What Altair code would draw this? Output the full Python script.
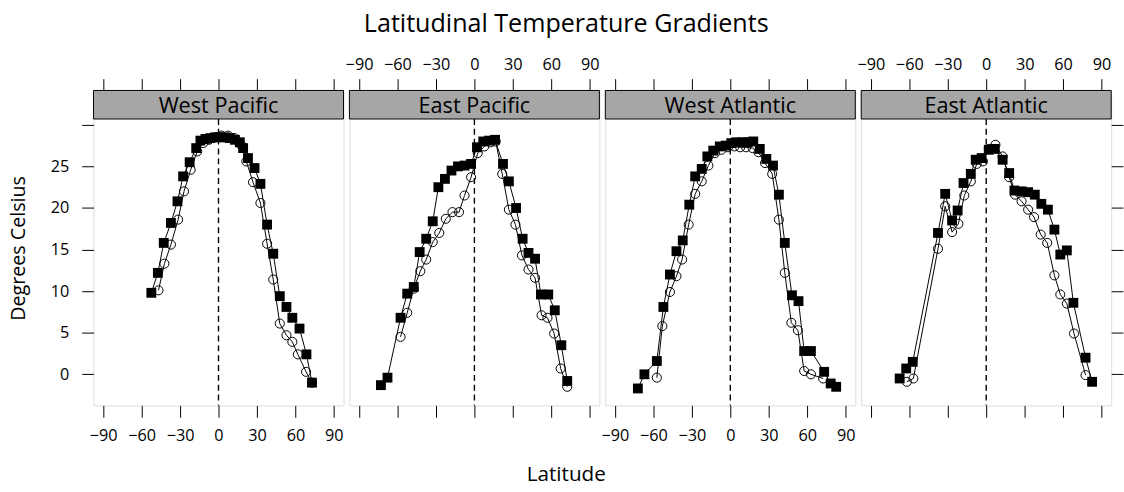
import altair as alt
import pandas as pd

FONT = "Open Sans"
panel_names = ["West Pacific", "East Pacific", "West Atlantic", "East Atlantic"]
lat_ticks = [-90, -60, -30, 0, 30, 60, 90]
temp_ticks = [0, 5, 10, 15, 20, 25, 30]

# West Pacific
wp_sq_lat = [-52.4, -47.3, -42.7, -37.1, -32.0, -27.6, -22.5, -17.4, -14.1, -10.2, -6.4, -2.6, 1.3, 5.1, 9.0, 12.8, 16.6, 19.2, 23.0, 28.1, 32.7, 37.9, 42.7, 47.8, 53.0, 57.6, 63.2, 68.6, 72.9]
wp_sq_t = [9.8, 12.2, 15.8, 18.2, 20.8, 23.8, 25.5, 27.2, 28.1, 28.3, 28.4, 28.5, 28.5, 28.5, 28.4, 28.2, 27.9, 27.2, 26.0, 24.8, 22.9, 18.0, 14.5, 9.4, 8.1, 6.8, 5.5, 2.4, -1.0]
wp_ci_lat = [-46.8, -42.2, -37.1, -31.5, -26.9, -21.7, -16.6, -12.0, -7.5, -2.5, 2.5, 7.5, 12.5, 17.5, 21.7, 26.9, 32.7, 37.9, 42.7, 47.8, 53.0, 57.6, 61.9, 68.3, 72.9]
wp_ci_t = [10.1, 13.3, 15.6, 18.6, 22.0, 24.6, 26.8, 27.8, 28.2, 28.5, 28.7, 28.7, 28.4, 27.6, 25.6, 23.1, 20.6, 15.7, 11.4, 6.1, 4.7, 3.9, 2.4, 0.3, -1.0]

# East Pacific
ep_sq_lat = [-72.9, -67.8, -57.6, -52.4, -47.3, -42.7, -37.6, -32.5, -28.1, -23.0, -17.9, -12.8, -7.7, -2.6, 2.0, 6.9, 11.5, 16.1, 22.3, 26.9, 32.5, 37.6, 42.2, 47.3, 51.9, 57.6, 62.7, 67.8, 72.4]
ep_sq_t = [-1.3, -0.4, 6.8, 9.7, 10.5, 14.7, 16.3, 18.4, 22.5, 23.5, 24.5, 25.0, 25.1, 25.3, 27.3, 28.0, 28.1, 28.2, 25.3, 23.2, 20.0, 16.3, 14.6, 13.9, 9.6, 9.6, 7.7, 3.5, -0.8]
ep_ci_lat = [-57.6, -52.4, -47.3, -42.2, -37.6, -32.5, -27.4, -22.3, -17.1, -12.0, -7.7, -2.6, 2.6, 7.7, 12.8, 16.6, 21.7, 26.9, 32.0, 37.1, 42.2, 47.3, 52.4, 57.0, 62.2, 67.3, 72.4]
ep_ci_t = [4.5, 7.4, 10.3, 12.4, 13.8, 15.9, 17.0, 18.7, 19.5, 19.5, 21.5, 23.7, 26.6, 27.4, 27.9, 28.0, 24.1, 19.8, 18.0, 14.3, 12.6, 11.6, 7.1, 6.8, 4.9, 0.7, -1.5]

# West Atlantic
wa_sq_lat = [-72.1, -67.0, -57.3, -52.2, -47.1, -42.0, -37.1, -32.0, -27.4, -22.3, -17.9, -13.3, -8.2, -3.6, 0.8, 4.6, 9.7, 13.6, 17.9, 23.0, 28.1, 33.3, 37.9, 42.5, 48.1, 53.2, 57.6, 62.9, 73.2, 78.3, 82.6]
wa_sq_t = [-1.7, 0.0, 1.6, 8.1, 12.0, 14.8, 16.1, 20.4, 23.8, 24.7, 26.2, 26.9, 27.4, 27.5, 27.8, 27.9, 27.9, 27.9, 28.0, 27.1, 25.9, 25.1, 21.6, 15.8, 9.5, 8.8, 2.8, 2.8, 0.3, -1.1, -1.5]
wa_ci_lat = [-57.3, -53.0, -47.1, -42.0, -37.6, -32.5, -27.4, -22.3, -17.1, -12.0, -6.9, -1.8, 3.3, 7.7, 12.3, 17.4, 22.0, 27.1, 32.7, 37.9, 42.5, 47.6, 52.7, 57.6, 62.9, 72.4]
wa_ci_t = [-0.4, 5.8, 9.9, 11.8, 13.8, 18.0, 21.7, 23.2, 25.1, 26.6, 27.0, 27.3, 27.4, 27.3, 27.3, 27.2, 26.7, 25.4, 24.1, 18.6, 12.2, 6.2, 5.3, 0.4, 0.0, -0.5]

# East Atlantic
ea_sq_lat = [-67.5, -62.4, -57.3, -37.6, -32.0, -26.6, -22.3, -17.7, -12.0, -8.2, -3.6, 2.0, 6.7, 12.8, 17.9, 22.0, 27.6, 32.7, 37.9, 43.0, 48.1, 53.2, 57.8, 62.9, 68.0, 77.5, 82.6]
ea_sq_t = [-0.5, 0.7, 1.5, 17.0, 21.7, 18.5, 19.7, 23.0, 24.1, 25.8, 26.0, 27.0, 27.1, 25.8, 24.2, 22.1, 22.0, 21.9, 21.6, 20.5, 19.8, 17.4, 14.4, 14.9, 8.6, 2.0, -0.9]
ea_ci_lat = [-61.9, -56.8, -37.6, -32.0, -26.6, -21.7, -17.1, -12.0, -7.4, -2.6, 2.0, 7.2, 12.8, 17.9, 22.5, 27.6, 32.7, 37.3, 42.5, 47.6, 53.2, 57.8, 62.9, 68.5, 77.5]
ea_ci_t = [-0.9, -0.5, 15.1, 20.2, 17.1, 18.1, 21.5, 23.2, 25.3, 25.6, 27.1, 27.6, 26.2, 23.7, 21.6, 20.8, 19.8, 18.9, 16.8, 15.8, 11.9, 9.6, 8.5, 4.9, -0.1]

panel_data = [
    (wp_sq_lat, wp_sq_t, wp_ci_lat, wp_ci_t),
    (ep_sq_lat, ep_sq_t, ep_ci_lat, ep_ci_t),
    (wa_sq_lat, wa_sq_t, wa_ci_lat, wa_ci_t),
    (ea_sq_lat, ea_sq_t, ea_ci_lat, ea_ci_t),
]

W = 254
H = 320
STRIP = 29
Y_MIN = -3.74
Y_MAX = 34.13
STRIP_GRAY = "#a6a6a6"
LABEL_SIZE = 16.5


def make_panel(i, name, sq_lat, sq_t, ci_lat, ci_t):
    df = pd.concat([
        pd.DataFrame({"lat": sq_lat, "temp": sq_t, "series": "squares"}),
        pd.DataFrame({"lat": ci_lat, "temp": ci_t, "series": "circles"}),
    ], ignore_index=True)
    one = pd.DataFrame({"name": [name]})

    xscale = alt.Scale(domain=[-97.5, 97.5], nice=False, zero=False)
    yscale = alt.Scale(domain=[Y_MIN, Y_MAX], nice=False, zero=False)

    common = dict(values=lat_ticks, title=None, domain=False, grid=False,
                  tickSize=12, tickColor="black", tickWidth=1,
                  labelFont=FONT, labelFontSize=LABEL_SIZE, labelColor="black",
                  labelFlush=False, labelOverlap=False)
    bottom_axis = alt.Axis(orient="bottom", labels=(i in (0, 2)), labelPadding=11, **common)
    top_axis = alt.Axis(orient="top", labels=(i in (1, 3)), labelPadding=6, **common)

    if i == 0:
        yaxis = alt.Axis(orient="left", values=temp_ticks, title="Degrees Celsius",
                         titleFont=FONT, titleFontSize=20, titleFontWeight="normal",
                         titleColor="black", titlePadding=22,
                         labelExpr="datum.value == 30 ? '' : datum.label",
                         domain=False, grid=False, tickSize=12, tickColor="black",
                         labelFont=FONT, labelFontSize=LABEL_SIZE, labelColor="black",
                         labelPadding=13)
    elif i == 3:
        yaxis = alt.Axis(orient="right", values=temp_ticks, title=None, labels=False,
                         domain=False, grid=False, tickSize=12, tickColor="black")
    else:
        yaxis = None

    base = alt.Chart(df)
    sbase = alt.Chart(one)

    strip_rect = sbase.mark_rect(fill=STRIP_GRAY, stroke="black", strokeWidth=1).encode(
        x=alt.value(0), x2=alt.value(W), y=alt.value(0), y2=alt.value(STRIP))
    strip_text = sbase.mark_text(font=FONT, fontSize=22, color="black",
                                 baseline="middle", align="center").encode(
        x=alt.value(W / 2), y=alt.value(STRIP / 2 + 1), text="name:N")

    zero_rule = sbase.mark_rule(color="black", strokeWidth=1.4, strokeDash=[6, 4]).encode(
        x=alt.XDatum(0, scale=xscale, axis=top_axis, type="quantitative"),
        y=alt.value(STRIP), y2=alt.value(H))

    y_enc = alt.Y("temp:Q", scale=yscale, axis=yaxis)

    lines = base.mark_line(color="black", strokeWidth=1).encode(
        x=alt.X("lat:Q", scale=xscale, axis=bottom_axis), y=y_enc,
        detail="series:N", order="lat:Q")
    squares = base.transform_filter(alt.datum.series == "squares").mark_point(
        shape="square", filled=True, color="black", size=100, opacity=1).encode(
        x=alt.X("lat:Q", scale=xscale, axis=None), y=y_enc)
    circles = base.transform_filter(alt.datum.series == "circles").mark_point(
        shape="circle", filled=False, color="black", size=85, strokeWidth=1, opacity=1).encode(
        x=alt.X("lat:Q", scale=xscale, axis=None), y=y_enc)

    return alt.layer(lines, zero_rule, circles, squares, strip_rect, strip_text).resolve_axis(
        x="independent").properties(width=W, height=H)


panels = [make_panel(i, panel_names[i], *panel_data[i]) for i in range(4)]

inner = alt.hconcat(*panels, spacing=0).properties(
    title=alt.TitleParams("Latitude", orient="bottom", anchor="middle", font=FONT,
                          fontSize=21, fontWeight="normal", color="black", offset=20))

chart = alt.vconcat(inner).properties(
    title=alt.TitleParams("Latitudinal Temperature Gradients", anchor="middle", font=FONT,
                          fontSize=25.5, fontWeight="normal", color="black", offset=19),
    padding={"left": 8, "top": 9, "right": 0, "bottom": 0},
).configure_view(stroke="black", strokeWidth=1.2).configure(background="white")

chart.save("out.html", embed_options={"renderer": "svg", "actions": False})
